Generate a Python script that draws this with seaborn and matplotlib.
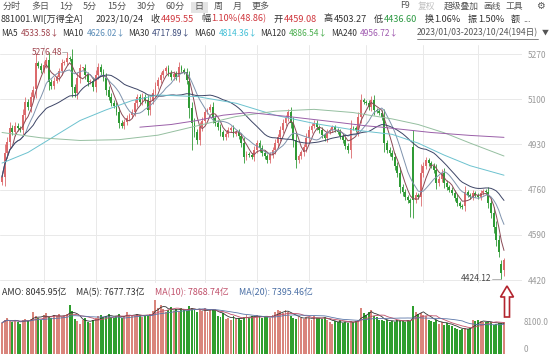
import numpy as np
import pandas as pd
import matplotlib
matplotlib.use("Agg")
import matplotlib.pyplot as plt
import seaborn as sns
from matplotlib.patches import Polygon, Rectangle
from matplotlib.lines import Line2D

# ---------------- data ----------------
closes = [
    4808, 4898, 4940, 4992, 4975, 5000, 4990, 4984, 5040, 5089,
    5070, 5110, 5135, 5236, 5225, 5210, 5230, 5247, 5165, 5150,
    5170, 5183, 5205, 5236, 5240, 5255, 5250, 5146, 5123, 5180,
    5217, 5217, 5190, 5165, 5170, 5146, 5190, 5221, 5202, 5180,
    5135, 5110, 5086, 5075, 5052, 5011, 5000, 5014, 5030, 5040,
    5052, 5085, 5108, 5090, 5110, 5097, 5059, 5095, 5123, 5150,
    5172, 5190, 5205, 5217, 5200, 5183, 5195, 5183, 5221, 5210,
    5202, 5172, 5067, 5011, 4975, 4947, 4995, 5020, 5052, 5060,
    5071, 5029, 5010, 4995, 4975, 4958, 4970, 4984, 4990, 4970,
    4977, 4960, 4935, 4883, 4895, 4890, 4883, 4910, 4935, 4915,
    4898, 4885, 4871, 4890, 4909, 4935, 4958, 4985, 5011, 5030,
    5052, 5010, 4947, 4871, 4885, 4900, 4920, 4955, 4984, 5000,
    5011, 4995, 4984, 4965, 4954, 4977, 4985, 4995, 4985, 4977,
    4960, 4947, 4925, 4909, 4992, 4990, 4984, 5033, 5097, 5090,
    5086, 5070, 5097, 5059, 5055, 5050, 5033, 4935, 4910, 4898,
    4883, 4850, 4823, 4770, 4750, 4732, 4720, 4710, 4721, 4740,
    4732, 4823, 4850, 4871, 4860, 4850, 4834, 4785, 4800, 4823,
    4785, 4770, 4759, 4748, 4730, 4710, 4700, 4695, 4751, 4740,
    4732, 4748, 4740, 4732, 4748, 4755, 4751, 4710, 4672, 4620,
    4570, 4525, 4446.69, 4495.55,
]
open_overrides = {0: 4790, 13: 5140, 27: 5250, 72: 5170, 138: 5035, 147: 5030,
                  158: 4920, 178: 4700, 192: 4480, 193: 4459.08}
high_overrides = {25: 5276.48, 193: 4503.27}
low_overrides = {73: 4909, 157: 4657, 192: 4424.12, 193: 4436.60}

volumes = [
    7800, 8600, 8900, 8200, 7900, 8500, 8100, 7600, 8400, 8800, 8300, 8700,
    10400,
    9600, 9000, 8600,
    9800, 10200, 9300, 9100, 9700, 9400, 10000,
    9200, 9600, 10100,
    12300, 10800,
    8800, 8200, 7600, 8400, 9100, 8000, 7800, 8600, 9000,
    9400, 9800, 9200, 9600, 10000, 9300, 9100, 9500, 9900, 9000, 9400,
    10400, 9800, 9600,
    9500, 10100, 9700, 9300, 9800, 9600, 9900,
    10800, 13600, 11500, 12300, 11200,
    10400, 11000, 11700, 10800, 11300, 10600, 11500, 11100, 10700, 12000,
    11600, 10900, 10500, 11200, 10800, 11400, 10600, 11000, 11300, 10900,
    9600, 9200, 10200, 8800, 9000, 8400, 9400, 8700, 9100, 8600,
    9300, 9800, 9000, 9500, 9200, 9700, 9400, 9100, 9600, 9300, 9000, 9800,
    10500, 11000, 10700, 10300, 10900, 10600,
    9500, 9000, 8800, 9300, 9100, 8700, 9200, 9000, 8600, 9400, 8900, 9100, 8800, 9200, 8500,
    8000, 7600, 8200, 7900, 8400, 7700, 8100, 7800, 8300, 7900, 8200, 8600,
    11500, 10200, 9800, 10400, 11000, 9600, 9200,
    8400, 8600, 8200, 8500, 8000, 8300, 8100, 8600, 8400, 8200, 8000, 8500, 8300,
    12000, 10600, 10000, 10300, 9800, 9600,
    8600, 8200, 7900, 8400, 7600, 8000, 7300, 7800, 7200, 7000,
    6500, 6200, 6100, 6300, 6400, 6200, 6400,
    8400, 8300, 8423,
    8200, 7900, 8100, 8000, 8097,
    7300, 7600, 7800, 7644, 8045.95,
]

# long moving averages (need history before the window) – read as anchor points
ma60_idx = [0, 10, 20, 30, 40, 50, 60, 75, 90, 105, 120, 135, 150, 160, 170, 180, 193]
ma60_val = [4860, 4900, 4960, 5020, 5060, 5095, 5116, 5110, 5085, 5040, 5009, 4985, 4968, 4935, 4890, 4850, 4814.36]
ma120_idx = [0, 15, 30, 45, 60, 75, 90, 105, 120, 135, 150, 160, 170, 180, 193]
ma120_val = [4975, 4955, 4945, 4948, 4965, 5000, 5035, 5055, 5062, 5050, 5026, 5005, 4974, 4935, 4886.54]
ma240_idx = [53, 65, 75, 85, 95, 110, 125, 140, 146, 165, 180, 193]
ma240_val = [4995, 5005, 5020, 5040, 5050, 5035, 5018, 5000, 4995, 4975, 4964, 4956.72]

price_ticks = [5270, 5100, 4930, 4760, 4590, 4420]
month_idx = [16, 36, 59, 78, 98, 118, 140, 162, 183]

# ---------------- derived OHLC ----------------
c = np.array(closes, dtype=float)
n = len(c)
o = np.r_[c[0], c[:-1]].copy()
for k, v in open_overrides.items():
    o[k] = v
body = np.abs(c - o)
hi = np.maximum(o, c) + 0.3 * body + 6
lo = np.minimum(o, c) - 0.3 * body - 6
for k, v in high_overrides.items():
    hi[k] = v
for k, v in low_overrides.items():
    lo[k] = v
up = c >= o
x = np.arange(n)

RED = "#dc6a6c"
GREEN = "#2f9a35"
VRED = "#d9857c"
VGREEN = "#2e9e2e"
cols = [RED if u else GREEN for u in up]
vcols = [VRED if u else VGREEN for u in up]

cs = pd.Series(c)
ma5 = cs.rolling(5, min_periods=1).mean()
ma10 = cs.rolling(10, min_periods=1).mean()
ma30 = cs.rolling(30, min_periods=1).mean()
vs = pd.Series(volumes, dtype=float)
vma5 = vs.rolling(5, min_periods=1).mean()
vma10 = vs.rolling(10, min_periods=1).mean()
vma20 = vs.rolling(20, min_periods=1).mean()

# ---------------- figure ----------------
sns.set_theme(style="white")
plt.rcParams['font.family'] = ['Noto Sans CJK SC', 'DejaVu Sans']

W, H = 550, 354
fig = plt.figure(figsize=(W / 100, H / 100), dpi=100)
fig.patch.set_facecolor("white")
AXW = 522
ax = fig.add_axes([0, 1 - 283 / H, AXW / W, 238 / H])
axv = fig.add_axes([0, 0, AXW / W, 56 / H])

xmin = -0.77
xmax = 193 + (AXW - 504) / 2.6
for a in (ax, axv):
    a.set_xlim(xmin, xmax)
    a.set_xticks(month_idx)
    a.set_xticklabels([])
    for sp in a.spines.values():
        sp.set_visible(False)
    a.yaxis.tick_right()
    a.tick_params(axis="both", length=0, labelsize=6, colors="#9a9a9a", pad=4)
ax.grid(True, color="#e9e9e9", lw=0.7)
ax.set_axisbelow(True)
axv.grid(False)
axv.tick_params(axis="y", pad=1, labelsize=5.8)

ax.set_ylim(4409, 5304)
ax.set_yticks(price_ticks)
ax.set_yticklabels([str(t) for t in price_ticks])

# candles
ax.vlines(x, lo, hi, colors=cols, lw=0.6, zorder=2)
ax.bar(x, np.maximum(body, 2.5), bottom=np.minimum(o, c), width=0.72, color=cols, lw=0, zorder=3)

# moving averages
sns.lineplot(x=x, y=ma5.values, ax=ax, color="#8a4a56", lw=0.7, zorder=4)
sns.lineplot(x=x, y=ma10.values, ax=ax, color="#7f93ad", lw=0.7, zorder=4)
sns.lineplot(x=x, y=ma30.values, ax=ax, color="#3d4566", lw=0.7, zorder=4)
sns.lineplot(x=ma60_idx, y=ma60_val, ax=ax, color="#6cc2cf", lw=0.7, zorder=4)
sns.lineplot(x=ma120_idx, y=ma120_val, ax=ax, color="#95bfa0", lw=0.7, zorder=4)
sns.lineplot(x=ma240_idx, y=ma240_val, ax=ax, color="#9a5fa8", lw=0.7, zorder=4)
ax.set_xlabel("")
ax.set_ylabel("")

# high / low markers
ax.text(23, 5276.48, "5276.48", fontsize=6, color="#a0444e", ha="right", va="center")
ax.plot([23.1, 25], [5276.48, 5276.48], color="#999999", lw=0.5)
ax.text(188.3, 4424.12, "4424.12", fontsize=6, color="#444444", ha="right", va="center")
ax.plot([188.4, 192], [4424.12, 4424.12], color="#999999", lw=0.5)

# volume
axv.bar(x, volumes, width=0.75, color=vcols, lw=0, zorder=2)
sns.lineplot(x=x, y=vma5.values, ax=axv, color="#333333", lw=0.6, zorder=3)
sns.lineplot(x=x, y=vma10.values, ax=axv, color="#c0506a", lw=0.6, zorder=3)
sns.lineplot(x=x, y=vma20.values, ax=axv, color="#5a76a8", lw=0.6, zorder=3)
axv.set_ylim(0, 14000)
axv.set_yticks([0, 8100])
axv.set_yticklabels(["0", "8100.0"])
axv.get_yticklabels()[0].set_va("bottom")
axv.set_xlabel("")
axv.set_ylabel("")

# ---------------- header texts ----------------
renderer = fig.canvas.get_renderer()


def draw_seq(y, x0, segs, size):
    xx = x0
    out = []
    for s, col, gap in segs:
        xx += gap
        t = fig.text(xx / W, 1 - y / H, s, color=col, fontsize=size, va="center", ha="left")
        bb = t.get_window_extent(renderer)
        out.append((xx, bb.width))
        xx += bb.width
    return out


DARK = "#333333"
GRAY = "#555555"
REDT = "#d0383f"
GREENT = "#2e9a44"

# line 1: period tabs
tabs = ["分时", "多日", "1分", "5分", "15分", "30分", "60分", "日", "周", "月", "更多"]
pos = draw_seq(6, 3, [(t, GRAY, 0 if i == 0 else 10) for i, t in enumerate(tabs)], 6.5)
dx, dw = pos[7]
fig.patches.append(Rectangle(((dx - 4) / W, 1 - 12.5 / H), (dw + 8) / W, 11 / H,
                             transform=fig.transFigure, facecolor="#e4e4e4", edgecolor="none", zorder=0))
draw_seq(6, 400, [("F9", GRAY, 0), ("复权", "#c0c0c0", 8), ("超级叠加", GRAY, 8),
                  ("画线", GRAY, 5), ("工具", GRAY, 5)], 6.3)
fig.text(540 / W, 1 - 6 / H, "⚙", color=GRAY, fontsize=7, va="center", ha="center",
         family=["DejaVu Sans"])

# line 2: quote
draw_seq(19, 1, [("881001.WI[万得全A]", DARK, 0), ("2023/10/24", DARK, 12),
                 ("收", DARK, 7), ("4495.55", REDT, 1), ("幅", DARK, 7), ("1.10%(48.86)", REDT, 1),
                 ("开", DARK, 7), ("4459.08", REDT, 1), ("高", DARK, 7), ("4503.27", DARK, 1),
                 ("低", DARK, 7), ("4436.60", GREENT, 1), ("换", DARK, 7), ("1.06%", DARK, 1),
                 ("振", DARK, 7), ("1.50%", DARK, 1), ("额", DARK, 7), ("...", DARK, 3)], 6.6)

# line 3: moving averages
draw_seq(33, 1, [("MA5", DARK, 0), ("4533.58↓", "#a0444e", 3),
                 ("MA10", DARK, 3), ("4626.02↓", "#5b8db8", 3),
                 ("MA30", DARK, 3), ("4717.89↓", "#3b4a7a", 3),
                 ("MA60", DARK, 3), ("4814.36↓", "#43bfd6", 3),
                 ("MA120", DARK, 3), ("4886.54↓", "#4caf50", 3),
                 ("MA240", DARK, 3), ("4956.72↓", "#a05ab0", 3)], 6.0)
rt = fig.text(538 / W, 1 - 33 / H, "2023/01/03-2023/10/24(194日)", color=GRAY, fontsize=6.2,
              va="center", ha="right")
bb = rt.get_window_extent(renderer)
fig.add_artist(Line2D([bb.x0 / W, bb.x1 / W], [1 - 39 / H, 1 - 39 / H], color=GRAY, lw=0.5))
fig.text(545 / W, 1 - 33 / H, "▼", color=GRAY, fontsize=5, va="center", ha="center")

# volume header
draw_seq(293, 2, [("AMO: 8045.95亿", DARK, 0), ("MA(5): 7677.73亿", DARK, 10),
                  ("MA(10): 7868.74亿", "#c0506a", 10), ("MA(20): 7395.46亿", "#4a6fa5", 10)], 6.4)

# red annotation arrow
pts = [(507, 286), (500.5, 297), (504.5, 297), (504.5, 317), (509.5, 317), (509.5, 297), (513.5, 297)]
fig.patches.append(Polygon([(px / W, 1 - py / H) for px, py in pts], closed=True,
                           transform=fig.transFigure, facecolor="none", edgecolor="#b3242e",
                           lw=1.2, zorder=10))

fig.savefig("out.png", dpi=100, facecolor="white")
